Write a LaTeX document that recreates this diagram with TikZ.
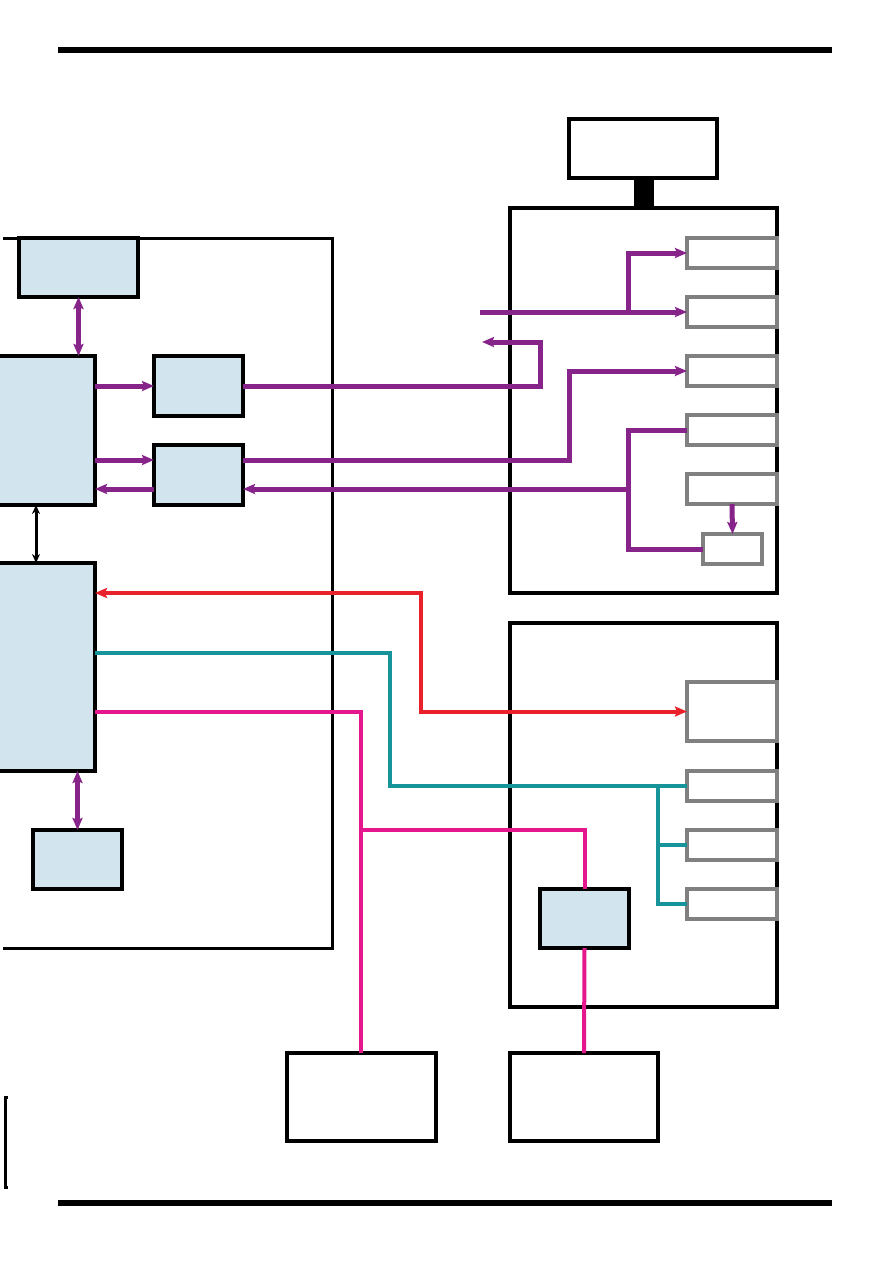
\documentclass[tikz,border=0pt]{standalone}
\usetikzlibrary{arrows.meta}
\definecolor{pur}{RGB}{134,36,138}
\definecolor{rd}{RGB}{232,33,43}
\definecolor{tl}{RGB}{22,148,153}
\definecolor{mg}{RGB}{228,24,140}
\definecolor{lb}{RGB}{210,228,238}
\definecolor{gr}{RGB}{128,128,128}
\tikzset{
  bx/.style={rectangle,inner sep=0pt,outer sep=0pt},
  bluebox/.style={bx,draw=black,fill=lb,line width=4.5pt},
  greybox/.style={bx,draw=gr,line width=3.5pt},
  blackbox/.style={bx,draw=black,line width=3.5pt},
  tip/.style={-{Stealth[length=12pt,width=10pt,inset=2pt]}},
  dtip/.style={{Stealth[length=12pt,width=10pt,inset=2pt]}-{Stealth[length=12pt,width=10pt,inset=2pt]}},
  pline/.style={draw=pur,line width=5pt},
  rline/.style={draw=rd,line width=4pt},
  tline/.style={draw=tl,line width=4pt},
  mline/.style={draw=mg,line width=4pt},
  rule/.style={line width=6pt}
}
\begin{document}
\begin{tikzpicture}[x=1pt,y=-1pt]
\useasboundingbox (0,0) rectangle (893,1263);
% rules
\coordinate (rl1) at (58,50); \coordinate (rr1) at (832,50);
\draw[rule] (rl1) -- (rr1);
\coordinate (rl2) at (58,1203); \coordinate (rr2) at (832,1203);
\draw[rule] (rl2) -- (rr2);
% left enclosure
\draw[line width=3pt] (3,238) -- (332,238) -- (332,948) -- (3,948);
% left blue boxes
\node[bluebox,minimum width=119pt,minimum height=59pt] (A) at (78.5,267.5) {};
\node[bluebox,minimum width=105pt,minimum height=149pt] (B) at (42.5,430.5) {};
\node[bluebox,minimum width=89pt,minimum height=60pt] (C) at (198.5,386) {};
\node[bluebox,minimum width=89pt,minimum height=60pt] (D) at (198.5,475) {};
\node[bluebox,minimum width=105pt,minimum height=208pt] (E) at (42.5,667) {};
\node[bluebox,minimum width=89pt,minimum height=59pt] (F) at (77.5,859.5) {};
% top box and connector
\node[blackbox,minimum width=148pt,minimum height=59pt] (T) at (643,148.5) {};
\node[bx,fill=black,minimum width=20pt,minimum height=30pt] (K) at (644,193) {};
% right enclosures
\node[blackbox,minimum width=267pt,minimum height=385pt] (R1) at (643.5,400.5) {};
\node[blackbox,minimum width=267pt,minimum height=384pt] (R2) at (643.5,815) {};
% grey boxes upper
\node[greybox,minimum width=90pt,minimum height=30pt] (g1) at (732,253) {};
\node[greybox,minimum width=90pt,minimum height=30pt] (g2) at (732,312) {};
\node[greybox,minimum width=90pt,minimum height=30pt] (g3) at (732,371) {};
\node[greybox,minimum width=90pt,minimum height=30pt] (g4) at (732,430) {};
\node[greybox,minimum width=90pt,minimum height=30pt] (g5) at (732,489) {};
\node[greybox,minimum width=59pt,minimum height=30pt] (g6) at (732.5,549) {};
% grey boxes lower
\node[greybox,minimum width=90pt,minimum height=59pt] (h1) at (732,711.5) {};
\node[greybox,minimum width=90pt,minimum height=30pt] (h2) at (732,786) {};
\node[greybox,minimum width=90pt,minimum height=30pt] (h3) at (732,845) {};
\node[greybox,minimum width=90pt,minimum height=30pt] (h4) at (732,904) {};
% G box
\node[bluebox,minimum width=89pt,minimum height=59pt] (G) at (584.5,918.5) {};
% bottom boxes
\node[blackbox,minimum width=149pt,minimum height=88pt] (P1) at (361.5,1097) {};
\node[blackbox,minimum width=148pt,minimum height=88pt] (P2) at (584,1097) {};
% bracket
\draw[line width=3pt] (8,1097) -- (5,1097) -- (5,1187) -- (8,1187);
% purple connectors
\coordinate (pin) at (480,312);
\coordinate (j1) at (628,312);
\draw[pline,tip] (pin) -- (g2.west);
\draw[pline,tip] (j1) |- (g1.west);
\coordinate (r1) at (540,386);
\coordinate (pout) at (482,342);
\draw[pline,tip] (C.east) -- (r1) |- (pout);
\coordinate (r2) at (569,460);
\draw[pline,tip] (D.east |- 0,460) -- (r2) |- (g3.west);
\coordinate (j2) at (628,430);
\coordinate (j3) at (628,549);
\coordinate (j4) at (628,489);
\draw[pline] (g4.west) -- (j2) -- (j3) -- (g6.west);
\draw[pline,tip] (j4) -- (D.east |- 0,489);
\draw[pline,tip] (g5.south) -- (g6.north);
\draw[pline,dtip] (A.south) -- (A.south |- B.north);
\draw[pline,tip] (B.east |- 0,386) -- (C.west);
\draw[pline,tip] (B.east |- 0,460) -- (D.west |- 0,460);
\draw[pline,tip] (D.west |- 0,489) -- (B.east |- 0,489);
\draw[line width=3pt,{Stealth[length=9pt,width=8pt]}-{Stealth[length=9pt,width=8pt]}] (B.south -| 36,0) -- (E.north -| 36,0);
\draw[pline,dtip] (E.south -| 77.5,0) -- (F.north);
% red
\coordinate (rd1) at (421,593);
\draw[rline,dtip] (E.east |- 0,593) -- (rd1) |- (h1.west);
% teal
\coordinate (t1) at (390,653);
\coordinate (t2) at (658,786);
\draw[tline] (E.east |- 0,653) -- (t1) |- (h2.west);
\draw[tline] (t2) |- (h3.west);
\draw[tline] (t2) |- (h4.west);
% magenta
\coordinate (m1) at (361,712);
\coordinate (m2) at (361,830);
\draw[mline] (E.east |- 0,712) -- (m1) -- (m1 |- P1.north);
\draw[mline] (m2) -| (G.north);
\draw[mline] (G.south) -- (P2.north);
\end{tikzpicture}
\end{document}
